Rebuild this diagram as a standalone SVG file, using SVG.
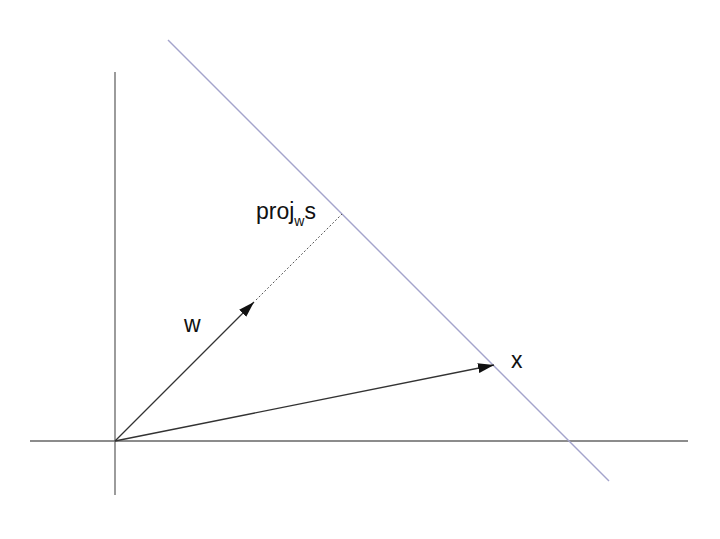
<svg xmlns="http://www.w3.org/2000/svg" width="720" height="539" viewBox="0 0 720 539">
<defs>
<marker id="ah" viewBox="0 0 16 10" refX="16" refY="5" markerWidth="16" markerHeight="10" markerUnits="userSpaceOnUse" orient="auto">
<path d="M0,0 L16,5 L0,10 z" fill="#111"/>
</marker>
</defs>
<style>
.axis{stroke:#666;stroke-width:1.3;fill:none}
.plane{stroke:#a4a4cc;stroke-width:1.4;fill:none}
.vec{stroke:#333;stroke-width:1.3;fill:none}
.dot{stroke:#555;stroke-width:1;stroke-dasharray:2,2;fill:none}
.lbl{font-family:"Liberation Sans",Arial,sans-serif;font-size:23px;fill:#111}
</style>
<rect width="720" height="539" fill="#fff"/>
<g id="connectors">
<line id="x-axis" class="axis" x1="30" y1="441" x2="688" y2="441"/>
<line id="y-axis" class="axis" x1="115" y1="72" x2="115" y2="495"/>
<line id="plane" class="plane" x1="168" y1="40" x2="609" y2="481"/>
<line id="w-vec" class="vec" x1="115" y1="441" x2="254" y2="302" marker-end="url(#ah)"/>
<line id="proj-dotted" class="dot" x1="256" y1="300" x2="342" y2="214"/>
<line id="x-vec" class="vec" x1="115" y1="441" x2="494" y2="365" marker-end="url(#ah)"/>
</g>
<g id="label-proj"><text class="lbl" x="256" y="219">proj<tspan font-size="14" dy="7">w</tspan><tspan dy="-7">s</tspan></text></g>
<g id="label-w"><text class="lbl" x="184" y="332">w</text></g>
<g id="label-x"><text class="lbl" x="511" y="368">x</text></g>
</svg>
